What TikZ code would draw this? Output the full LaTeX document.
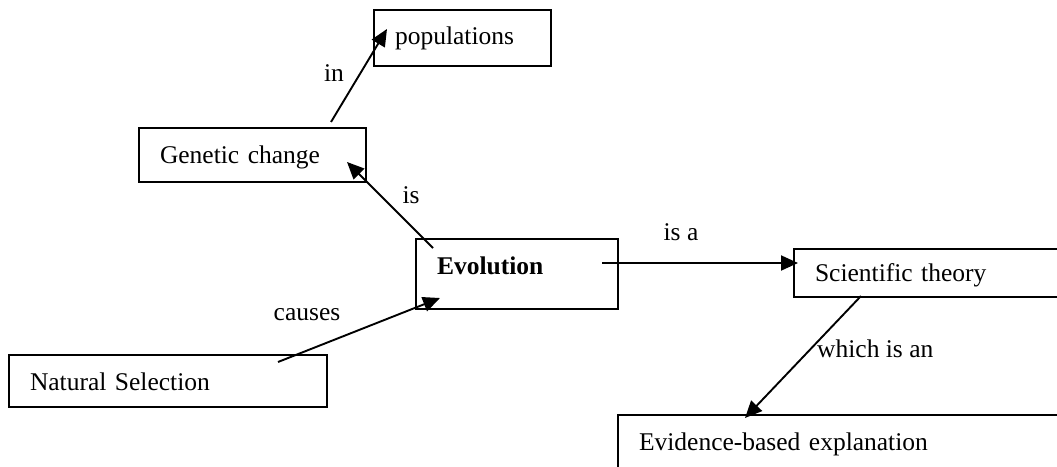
\documentclass[tikz,border=0pt]{standalone}
\usepackage{fontspec}
\setmainfont{Liberation Serif}
\usetikzlibrary{arrows.meta}
\begin{document}
\begin{tikzpicture}[x=1pt,y=-1pt,
  box/.style={draw,line width=2pt,rectangle,anchor=north west,inner xsep=21pt,inner ysep=0pt,align=left,font=\fontsize{25.5}{28}\selectfont},
  lbl/.style={inner sep=0pt,font=\fontsize{25.5}{28}\selectfont},
  arr/.style={line width=1.9pt,-{Triangle[length=17pt,width=15pt]}}]
\useasboundingbox (0,0) rectangle (1057,466);
\clip (0,0) rectangle (1057,466);
\node[box,text width=135pt,text height=34pt,text depth=22pt] (pop) at (373,9) {populations};
\node[box,text width=185pt,text height=35pt,text depth=19pt] (gc) at (138,127) {Genetic change};
\node[box,text width=160pt,text height=35pt,text depth=35pt] (evo) at (415,238) {\textbf{Evolution}};
\node[box,text width=260pt,text height=32pt,text depth=16pt] (st) at (793,248) {Scientific theory};
\node[box,text width=276pt,text height=35pt,text depth=17pt] (ns) at (8,354) {Natural Selection};
\node[box,text width=460pt,text height=35pt,text depth=40pt] (ev) at (617,414) {Evidence-based explanation};
\draw[arr] ([shift={(193,-5)}]gc.north west) -- ([shift={(14,20)}]pop.north west);
\draw[arr] ([shift={(18,10)}]evo.north west) -- ([shift={(209,35)}]gc.north west);
\draw[arr] ([shift={(270,8)}]ns.north west) -- ([shift={(25,60)}]evo.north west);
\draw[arr] ([shift={(187,25)}]evo.north west) -- ([shift={(5,15)}]st.north west);
\draw[arr] ([shift={(68,48)}]st.north west) -- ([shift={(128,4)}]ev.north west);
\node[lbl,anchor=base] (lin) at (334,81) {in};
\node[lbl,anchor=base] (lis) at (411,203) {is};
\node[lbl,anchor=base] (lcauses) at (307,320) {causes};
\node[lbl,anchor=base] (lisa) at (681,240) {is a};
\node[lbl,anchor=base west] (lwhich) at (817,357) {which is an};
\end{tikzpicture}
\end{document}
